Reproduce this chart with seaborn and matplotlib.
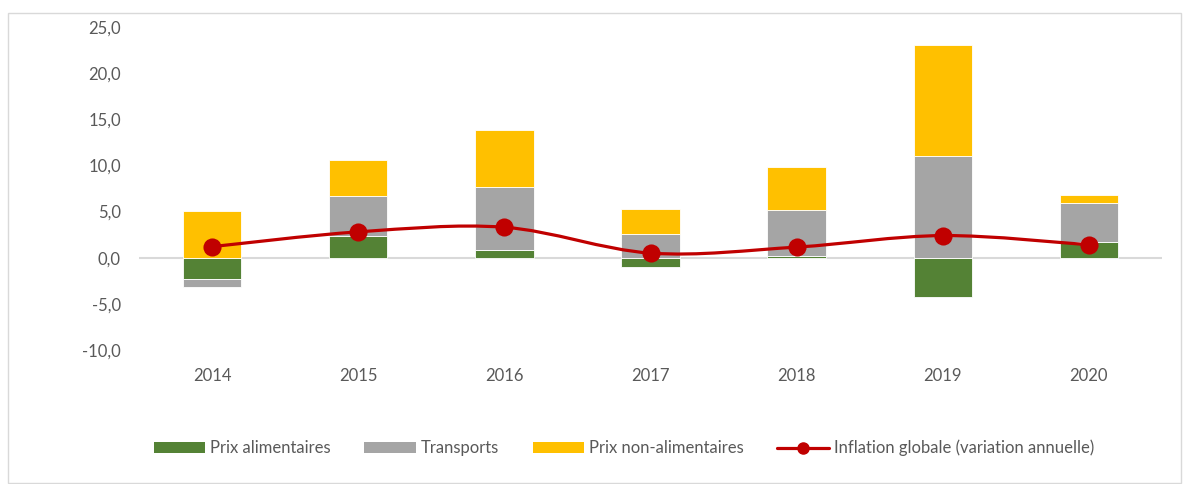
import numpy as np
import matplotlib
matplotlib.use("Agg")
import matplotlib.pyplot as plt
from matplotlib.path import Path
from matplotlib.patches import PathPatch, Patch, Rectangle
from matplotlib.lines import Line2D
from matplotlib.ticker import FuncFormatter
import seaborn as sns

# Données
annees = ["2014", "2015", "2016", "2017", "2018", "2019", "2020"]
prix_alimentaires = [-2.3, 2.4, 0.8, -1.0, 0.2, -4.3, 1.65]
transports = [-0.9, 4.3, 6.85, 2.6, 5.0, 11.0, 4.25]
prix_non_alimentaires = [5.1, 3.9, 6.15, 2.7, 4.6, 12.05, 0.9]
inflation_globale = [1.2, 2.8, 3.3, 0.5, 1.15, 2.4, 1.4]

series = [
    ("Prix alimentaires", prix_alimentaires, "#548235"),
    ("Transports", transports, "#A5A5A5"),
    ("Prix non-alimentaires", prix_non_alimentaires, "#FFC000"),
]
ROUGE = "#C00000"
TEXTE = "#595959"
TAILLE = 12

sns.set_theme(style="white")
plt.rcParams["font.family"] = ["Lato", "DejaVu Sans"]

fig = plt.figure(figsize=(11.89, 4.84), dpi=100)
ax = fig.add_axes([139 / 1189, 1 - 350 / 484, 1023 / 1189, 323 / 484])

# cadre du graphique
fig.patches.append(Rectangle((8 / 1189, 1 / 484), 1173 / 1189, 470 / 484,
                             transform=fig.transFigure, fill=False,
                             edgecolor="#D9D9D9", linewidth=1.0))

x = np.arange(len(annees))
pos = np.zeros(len(annees))
neg = np.zeros(len(annees))
for nom, vals, couleur in series:
    vals = np.array(vals)
    bas = np.where(vals >= 0, pos, neg)
    ax.bar(x, vals, bottom=bas, width=0.4, color=couleur,
           edgecolor="white", linewidth=0.6, zorder=2)
    pos = pos + np.where(vals >= 0, vals, 0)
    neg = neg + np.where(vals < 0, vals, 0)

ax.axhline(0, color="#D9D9D9", linewidth=1.5, zorder=1)

# courbe lissée (style Excel) à travers les points d'inflation
pts = np.column_stack([x, inflation_globale]).astype(float)
ext = np.vstack([pts[0], pts, pts[-1]])
verts = [tuple(pts[0])]
codes = [Path.MOVETO]
for i in range(1, len(ext) - 2):
    p0, p1, p2, p3 = ext[i - 1], ext[i], ext[i + 1], ext[i + 2]
    c1 = p1 + (p2 - p0) / 6
    c2 = p2 - (p3 - p1) / 6
    verts += [tuple(c1), tuple(c2), tuple(p2)]
    codes += [Path.CURVE4] * 3
ax.add_patch(PathPatch(Path(verts, codes), fill=False, edgecolor=ROUGE,
                       linewidth=2.3, zorder=3, capstyle="round"))
sns.scatterplot(x=x, y=inflation_globale, ax=ax, color=ROUGE, s=170,
                edgecolor=ROUGE, linewidth=0, zorder=4)

ax.set_xlim(-0.5, len(annees) - 0.5)
ax.set_ylim(-10, 25)
ax.set_yticks(np.arange(-10, 26, 5))
ax.yaxis.set_major_formatter(FuncFormatter(lambda v, p: f"{v:.1f}".replace(".", ",")))
ax.set_xticks(x)
ax.set_xticklabels(annees)
ax.tick_params(axis="both", length=0, labelsize=TAILLE, labelcolor=TEXTE)
ax.tick_params(axis="x", pad=13)
ax.tick_params(axis="y", pad=13)
for s in ax.spines.values():
    s.set_visible(False)
ax.grid(False)

handles = [Patch(facecolor=c, edgecolor="none", label=n) for n, _, c in series]
handles.append(Line2D([0], [0], color=ROUGE, linewidth=2.3, marker="o",
                      markersize=8, label="Inflation globale (variation annuelle)"))
fig.legend(handles=handles, loc="center", bbox_to_anchor=(624 / 1189, 1 - 448 / 484),
           ncol=4, frameon=False, fontsize=TAILLE, labelcolor=TEXTE,
           handlelength=3.1, handleheight=0.6, handletextpad=0.3, columnspacing=2.0)

fig.savefig("out.png", dpi=100)
